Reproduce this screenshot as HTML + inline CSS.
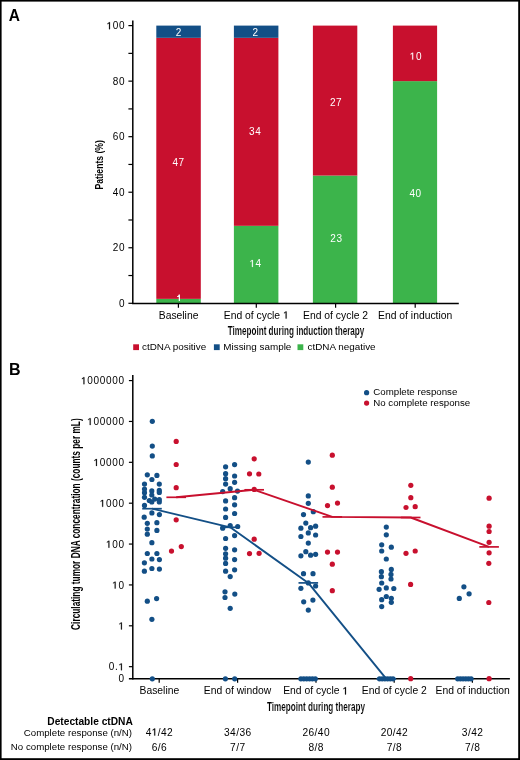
<!DOCTYPE html>
<html><head><meta charset="utf-8"><title>ctDNA figure</title>
<style>
html,body{margin:0;padding:0;background:#fff;}
body{width:520px;height:760px;overflow:hidden;}
svg{display:block;font-family:"Liberation Sans", sans-serif;will-change:transform;}
</style></head>
<body>
<svg width="520" height="760" viewBox="0 0 520 760">
<rect width="520" height="760" fill="#fff"/>
<rect x="156.3" y="298.86" width="44.5" height="4.44" fill="#3cb44b"/>
<rect x="156.3" y="37.82" width="44.5" height="261.04" fill="#c8102e"/>
<rect x="156.3" y="25.60" width="44.5" height="12.22" fill="#134f86"/>
<rect x="233.9" y="225.82" width="44.5" height="77.48" fill="#3cb44b"/>
<rect x="233.9" y="37.82" width="44.5" height="188.00" fill="#c8102e"/>
<rect x="233.9" y="25.60" width="44.5" height="12.22" fill="#134f86"/>
<rect x="312.9" y="175.56" width="44.4" height="127.74" fill="#3cb44b"/>
<rect x="312.9" y="25.60" width="44.4" height="149.96" fill="#c8102e"/>
<rect x="392.9" y="81.14" width="44.2" height="222.16" fill="#3cb44b"/>
<rect x="392.9" y="25.60" width="44.2" height="55.54" fill="#c8102e"/>
<text x="175.72" y="35.60" font-size="10.0" fill="#ffffff">2</text>
<text x="172.44 178.60" y="166.40" font-size="10.0" fill="#ffffff">47</text>
<text x="252.42" y="35.60" font-size="10.0" fill="#ffffff">2</text>
<text x="249.04 255.20" y="134.60" font-size="10.0" fill="#ffffff">34</text>
<path transform="translate(249.44,266.90) scale(0.004883,-0.004883)" d="M515,0 L696,0 L696,1409 L530,1409 L197,1180 L197,1010 L515,1237 Z" fill="#ffffff" stroke="#ffffff" stroke-width="45.1" stroke-linejoin="round"/>
<text x="255.60" y="266.90" font-size="10.0" fill="#ffffff">4</text>
<text x="329.94 336.10" y="105.80" font-size="10.0" fill="#ffffff">27</text>
<text x="330.24 336.40" y="241.50" font-size="10.0" fill="#ffffff">23</text>
<path transform="translate(409.74,59.60) scale(0.004883,-0.004883)" d="M515,0 L696,0 L696,1409 L530,1409 L197,1180 L197,1010 L515,1237 Z" fill="#ffffff" stroke="#ffffff" stroke-width="45.1" stroke-linejoin="round"/>
<text x="415.90" y="59.60" font-size="10.0" fill="#ffffff">0</text>
<text x="409.44 415.60" y="196.50" font-size="10.0" fill="#ffffff">40</text>
<path d="M178.75,294.4 L179.95,294.4 L179.95,301.0 L178.75,301.0 Z M178.75,294.4 C178.5,295.6 177.9,296.1 177.0,296.2 L177.0,297.1 C177.8,297.1 178.4,296.8 178.75,296.4 Z" fill="#fff"/>
<line x1="132.8" y1="20.4" x2="132.8" y2="304.1" stroke="#000" stroke-width="1.5"/>
<line x1="132.05" y1="303.4" x2="458.8" y2="303.4" stroke="#000" stroke-width="1.5"/>
<line x1="128.4" y1="303.30" x2="132.8" y2="303.30" stroke="#000" stroke-width="1.2"/>
<text x="119.04" y="306.90" font-size="10" fill="#000000">0</text>
<line x1="128.4" y1="275.53" x2="132.8" y2="275.53" stroke="#000" stroke-width="1.2"/>
<line x1="128.4" y1="247.76" x2="132.8" y2="247.76" stroke="#000" stroke-width="1.2"/>
<text x="112.80 119.04" y="251.36" font-size="10" fill="#000000">20</text>
<line x1="128.4" y1="219.99" x2="132.8" y2="219.99" stroke="#000" stroke-width="1.2"/>
<line x1="128.4" y1="192.22" x2="132.8" y2="192.22" stroke="#000" stroke-width="1.2"/>
<text x="112.80 119.04" y="195.82" font-size="10" fill="#000000">40</text>
<line x1="128.4" y1="164.45" x2="132.8" y2="164.45" stroke="#000" stroke-width="1.2"/>
<line x1="128.4" y1="136.68" x2="132.8" y2="136.68" stroke="#000" stroke-width="1.2"/>
<text x="112.80 119.04" y="140.28" font-size="10" fill="#000000">60</text>
<line x1="128.4" y1="108.91" x2="132.8" y2="108.91" stroke="#000" stroke-width="1.2"/>
<line x1="128.4" y1="81.14" x2="132.8" y2="81.14" stroke="#000" stroke-width="1.2"/>
<text x="112.80 119.04" y="84.74" font-size="10" fill="#000000">80</text>
<line x1="128.4" y1="53.37" x2="132.8" y2="53.37" stroke="#000" stroke-width="1.2"/>
<line x1="128.4" y1="25.60" x2="132.8" y2="25.60" stroke="#000" stroke-width="1.2"/>
<path transform="translate(106.56,29.20) scale(0.004883,-0.004883)" d="M515,0 L696,0 L696,1409 L530,1409 L197,1180 L197,1010 L515,1237 Z" fill="#000000" stroke="#000000" stroke-width="45.1" stroke-linejoin="round"/>
<text x="112.80 119.04" y="29.20" font-size="10" fill="#000000">00</text>
<line x1="178.4" y1="303.4" x2="178.4" y2="307.8" stroke="#000" stroke-width="1.2"/>
<line x1="256.3" y1="303.4" x2="256.3" y2="307.8" stroke="#000" stroke-width="1.2"/>
<line x1="335.6" y1="303.4" x2="335.6" y2="307.8" stroke="#000" stroke-width="1.2"/>
<line x1="415.2" y1="303.4" x2="415.2" y2="307.8" stroke="#000" stroke-width="1.2"/>
<text x="178.6" y="318.6" font-size="10.35" text-anchor="middle" fill="#000000" font-weight="normal" >Baseline</text>
<text x="223.79" y="318.6" font-size="10.35" text-anchor="start" fill="#000000" font-weight="normal" >End of cycle </text>
<path transform="translate(283.05,318.60) scale(0.005054,-0.005054)" d="M515,0 L696,0 L696,1409 L530,1409 L197,1180 L197,1010 L515,1237 Z" fill="#000000" stroke="#000000" stroke-width="43.5" stroke-linejoin="round"/>
<text x="335.6" y="318.6" font-size="10.35" text-anchor="middle" fill="#000000" font-weight="normal" >End of cycle 2</text>
<text x="415.2" y="318.6" font-size="10.35" text-anchor="middle" fill="#000000" font-weight="normal" >End of induction</text>
<text x="296" y="334.6" font-size="12.4" text-anchor="middle" fill="#000000" font-weight="bold" textLength="136.7" lengthAdjust="spacingAndGlyphs" stroke="#fff" stroke-width="0.12">Timepoint during induction therapy</text>
<text transform="translate(102.6,164.8) rotate(-90)" x="0" y="0" font-size="11.6" text-anchor="middle" fill="#000000" textLength="49.4" lengthAdjust="spacingAndGlyphs" font-weight="bold">Patients (%)</text>
<rect x="133.20000000000002" y="344.3" width="5.8" height="5.8" fill="#c8102e"/>
<text x="142.0" y="350.0" font-size="9.9" text-anchor="start" fill="#000000" font-weight="normal" >ctDNA positive</text>
<rect x="213.9" y="344.3" width="5.8" height="5.8" fill="#134f86"/>
<text x="223.3" y="350.0" font-size="9.9" text-anchor="start" fill="#000000" font-weight="normal" >Missing sample</text>
<rect x="297.5" y="344.3" width="5.8" height="5.8" fill="#3cb44b"/>
<text x="307.5" y="350.0" font-size="9.9" text-anchor="start" fill="#000000" font-weight="normal" >ctDNA negative</text>
<text x="8.8" y="20.8" font-size="17" text-anchor="start" fill="#000" font-weight="bold" textLength="11.2" lengthAdjust="spacingAndGlyphs" >A</text>
<text x="8.9" y="375.3" font-size="17" text-anchor="start" fill="#000" font-weight="bold" textLength="11.6" lengthAdjust="spacingAndGlyphs" >B</text>
<line x1="132.8" y1="375.0" x2="132.8" y2="679.5" stroke="#000" stroke-width="1.5"/>
<line x1="128.9" y1="678.8" x2="509.9" y2="678.8" stroke="#000" stroke-width="1.5"/>
<line x1="128.9" y1="380.58" x2="132.8" y2="380.58" stroke="#000" stroke-width="1.2"/>
<path transform="translate(80.99,384.18) scale(0.004883,-0.004883)" d="M515,0 L696,0 L696,1409 L530,1409 L197,1180 L197,1010 L515,1237 Z" fill="#000000" stroke="#000000" stroke-width="45.1" stroke-linejoin="round"/>
<text x="87.23 93.47 99.71 105.96 112.20 118.44" y="384.18" font-size="10" fill="#000000">000000</text>
<line x1="128.9" y1="421.45" x2="132.8" y2="421.45" stroke="#000" stroke-width="1.2"/>
<path transform="translate(87.23,425.05) scale(0.004883,-0.004883)" d="M515,0 L696,0 L696,1409 L530,1409 L197,1180 L197,1010 L515,1237 Z" fill="#000000" stroke="#000000" stroke-width="45.1" stroke-linejoin="round"/>
<text x="93.47 99.71 105.96 112.20 118.44" y="425.05" font-size="10" fill="#000000">00000</text>
<line x1="128.9" y1="462.32" x2="132.8" y2="462.32" stroke="#000" stroke-width="1.2"/>
<path transform="translate(93.47,465.92) scale(0.004883,-0.004883)" d="M515,0 L696,0 L696,1409 L530,1409 L197,1180 L197,1010 L515,1237 Z" fill="#000000" stroke="#000000" stroke-width="45.1" stroke-linejoin="round"/>
<text x="99.71 105.96 112.20 118.44" y="465.92" font-size="10" fill="#000000">0000</text>
<line x1="128.9" y1="503.19" x2="132.8" y2="503.19" stroke="#000" stroke-width="1.2"/>
<path transform="translate(99.71,506.79) scale(0.004883,-0.004883)" d="M515,0 L696,0 L696,1409 L530,1409 L197,1180 L197,1010 L515,1237 Z" fill="#000000" stroke="#000000" stroke-width="45.1" stroke-linejoin="round"/>
<text x="105.96 112.20 118.44" y="506.79" font-size="10" fill="#000000">000</text>
<line x1="128.9" y1="544.06" x2="132.8" y2="544.06" stroke="#000" stroke-width="1.2"/>
<path transform="translate(105.96,547.66) scale(0.004883,-0.004883)" d="M515,0 L696,0 L696,1409 L530,1409 L197,1180 L197,1010 L515,1237 Z" fill="#000000" stroke="#000000" stroke-width="45.1" stroke-linejoin="round"/>
<text x="112.20 118.44" y="547.66" font-size="10" fill="#000000">00</text>
<line x1="128.9" y1="584.93" x2="132.8" y2="584.93" stroke="#000" stroke-width="1.2"/>
<path transform="translate(112.20,588.53) scale(0.004883,-0.004883)" d="M515,0 L696,0 L696,1409 L530,1409 L197,1180 L197,1010 L515,1237 Z" fill="#000000" stroke="#000000" stroke-width="45.1" stroke-linejoin="round"/>
<text x="118.44" y="588.53" font-size="10" fill="#000000">0</text>
<line x1="128.9" y1="625.80" x2="132.8" y2="625.80" stroke="#000" stroke-width="1.2"/>
<path transform="translate(118.44,629.40) scale(0.004883,-0.004883)" d="M515,0 L696,0 L696,1409 L530,1409 L197,1180 L197,1010 L515,1237 Z" fill="#000000" stroke="#000000" stroke-width="45.1" stroke-linejoin="round"/>
<line x1="128.9" y1="666.67" x2="132.8" y2="666.67" stroke="#000" stroke-width="1.2"/>
<path transform="translate(118.44,670.27) scale(0.004883,-0.004883)" d="M515,0 L696,0 L696,1409 L530,1409 L197,1180 L197,1010 L515,1237 Z" fill="#000000" stroke="#000000" stroke-width="45.1" stroke-linejoin="round"/>
<text x="108.74 114.98" y="670.27" font-size="10" fill="#000000">0.</text>
<text x="118.44" y="682.40" font-size="10" fill="#000000">0</text>
<line x1="159.2" y1="678.8" x2="159.2" y2="682.8" stroke="#000" stroke-width="1.2"/>
<line x1="237.6" y1="678.8" x2="237.6" y2="682.8" stroke="#000" stroke-width="1.2"/>
<line x1="316.0" y1="678.8" x2="316.0" y2="682.8" stroke="#000" stroke-width="1.2"/>
<line x1="394.2" y1="678.8" x2="394.2" y2="682.8" stroke="#000" stroke-width="1.2"/>
<line x1="472.4" y1="678.8" x2="472.4" y2="682.8" stroke="#000" stroke-width="1.2"/>
<text x="159.4" y="694.4" font-size="10.35" text-anchor="middle" fill="#000000" font-weight="normal" >Baseline</text>
<text x="237.5" y="694.4" font-size="10.35" text-anchor="middle" fill="#000000" font-weight="normal" >End of window</text>
<text x="283.19" y="694.4" font-size="10.35" text-anchor="start" fill="#000000" font-weight="normal" >End of cycle </text>
<path transform="translate(342.45,694.40) scale(0.005054,-0.005054)" d="M515,0 L696,0 L696,1409 L530,1409 L197,1180 L197,1010 L515,1237 Z" fill="#000000" stroke="#000000" stroke-width="43.5" stroke-linejoin="round"/>
<text x="394.3" y="694.4" font-size="10.35" text-anchor="middle" fill="#000000" font-weight="normal" >End of cycle 2</text>
<text x="472.6" y="694.4" font-size="10.35" text-anchor="middle" fill="#000000" font-weight="normal" >End of induction</text>
<text x="316.0" y="710.7" font-size="12.4" text-anchor="middle" fill="#000000" font-weight="bold" textLength="98.1" lengthAdjust="spacingAndGlyphs" stroke="#fff" stroke-width="0.12">Timepoint during therapy</text>
<text transform="translate(80.2,524.1) rotate(-90)" x="0" y="0" font-size="13.2" text-anchor="middle" fill="#000000" textLength="211.6" lengthAdjust="spacingAndGlyphs" font-weight="bold">Circulating tumor DNA concentration (counts per mL)</text>
<circle cx="366.6" cy="392.7" r="2.6" fill="#134f86"/>
<circle cx="366.6" cy="403.1" r="2.6" fill="#c8102e"/>
<text x="373.3" y="395.2" font-size="9.7" text-anchor="start" fill="#000000" font-weight="normal" >Complete response</text>
<text x="373.3" y="405.8" font-size="9.7" text-anchor="start" fill="#000000" font-weight="normal" >No complete response</text>
<circle cx="152.3" cy="421.3" r="2.6" fill="#134f86"/>
<circle cx="152.3" cy="446.1" r="2.6" fill="#134f86"/>
<circle cx="152.3" cy="455.9" r="2.6" fill="#134f86"/>
<circle cx="147.3" cy="474.8" r="2.6" fill="#134f86"/>
<circle cx="156.9" cy="475.4" r="2.6" fill="#134f86"/>
<circle cx="151.9" cy="479.5" r="2.6" fill="#134f86"/>
<circle cx="144.5" cy="484.1" r="2.6" fill="#134f86"/>
<circle cx="159.3" cy="484.1" r="2.6" fill="#134f86"/>
<circle cx="144.5" cy="489" r="2.6" fill="#134f86"/>
<circle cx="144.5" cy="492.7" r="2.6" fill="#134f86"/>
<circle cx="144.5" cy="497.3" r="2.6" fill="#134f86"/>
<circle cx="159.3" cy="490.4" r="2.6" fill="#134f86"/>
<circle cx="159.3" cy="492.4" r="2.6" fill="#134f86"/>
<circle cx="151.8" cy="490.9" r="2.6" fill="#134f86"/>
<circle cx="151.8" cy="495" r="2.6" fill="#134f86"/>
<circle cx="149.3" cy="500.5" r="2.6" fill="#134f86"/>
<circle cx="151.8" cy="502" r="2.6" fill="#134f86"/>
<circle cx="154.7" cy="499.1" r="2.6" fill="#134f86"/>
<circle cx="159.3" cy="499.7" r="2.6" fill="#134f86"/>
<circle cx="159.3" cy="502" r="2.6" fill="#134f86"/>
<circle cx="144.5" cy="505.4" r="2.6" fill="#134f86"/>
<circle cx="151.9" cy="512.9" r="2.6" fill="#134f86"/>
<circle cx="159.4" cy="514.6" r="2.6" fill="#134f86"/>
<circle cx="144.2" cy="517.2" r="2.6" fill="#134f86"/>
<circle cx="147.3" cy="523.3" r="2.6" fill="#134f86"/>
<circle cx="156.9" cy="522.7" r="2.6" fill="#134f86"/>
<circle cx="147.3" cy="529" r="2.6" fill="#134f86"/>
<circle cx="156.9" cy="530.4" r="2.6" fill="#134f86"/>
<circle cx="147.3" cy="534.2" r="2.6" fill="#134f86"/>
<circle cx="151.9" cy="542.7" r="2.6" fill="#134f86"/>
<circle cx="147.3" cy="553.5" r="2.6" fill="#134f86"/>
<circle cx="156.9" cy="553.5" r="2.6" fill="#134f86"/>
<circle cx="151.9" cy="559" r="2.6" fill="#134f86"/>
<circle cx="159.4" cy="559.6" r="2.6" fill="#134f86"/>
<circle cx="144.4" cy="562.8" r="2.6" fill="#134f86"/>
<circle cx="151.9" cy="568.5" r="2.6" fill="#134f86"/>
<circle cx="159.4" cy="569.1" r="2.6" fill="#134f86"/>
<circle cx="144.4" cy="571.2" r="2.6" fill="#134f86"/>
<circle cx="147.3" cy="601.2" r="2.6" fill="#134f86"/>
<circle cx="156.6" cy="598.6" r="2.6" fill="#134f86"/>
<circle cx="151.9" cy="619.3" r="2.6" fill="#134f86"/>
<circle cx="152.3" cy="678.8" r="2.6" fill="#134f86"/>
<circle cx="225.6" cy="466.8" r="2.6" fill="#134f86"/>
<circle cx="234.6" cy="464.6" r="2.6" fill="#134f86"/>
<circle cx="225.6" cy="473.7" r="2.6" fill="#134f86"/>
<circle cx="225.6" cy="478.7" r="2.6" fill="#134f86"/>
<circle cx="234.6" cy="476" r="2.6" fill="#134f86"/>
<circle cx="234.6" cy="482.3" r="2.6" fill="#134f86"/>
<circle cx="225.6" cy="484.1" r="2.6" fill="#134f86"/>
<circle cx="230.2" cy="488.7" r="2.6" fill="#134f86"/>
<circle cx="222.7" cy="491.6" r="2.6" fill="#134f86"/>
<circle cx="237.5" cy="491.1" r="2.6" fill="#134f86"/>
<circle cx="234.6" cy="497.7" r="2.6" fill="#134f86"/>
<circle cx="225.6" cy="500.9" r="2.6" fill="#134f86"/>
<circle cx="234.6" cy="504.8" r="2.6" fill="#134f86"/>
<circle cx="225.6" cy="509" r="2.6" fill="#134f86"/>
<circle cx="234.6" cy="513.5" r="2.6" fill="#134f86"/>
<circle cx="225.6" cy="517.4" r="2.6" fill="#134f86"/>
<circle cx="222.7" cy="528.2" r="2.6" fill="#134f86"/>
<circle cx="230.2" cy="525.6" r="2.6" fill="#134f86"/>
<circle cx="237.7" cy="526.5" r="2.6" fill="#134f86"/>
<circle cx="234.6" cy="535.6" r="2.6" fill="#134f86"/>
<circle cx="225.6" cy="538.5" r="2.6" fill="#134f86"/>
<circle cx="225.6" cy="548.3" r="2.6" fill="#134f86"/>
<circle cx="234.6" cy="549.8" r="2.6" fill="#134f86"/>
<circle cx="225.6" cy="553.8" r="2.6" fill="#134f86"/>
<circle cx="225.6" cy="558.2" r="2.6" fill="#134f86"/>
<circle cx="234.6" cy="559.6" r="2.6" fill="#134f86"/>
<circle cx="225.6" cy="563.4" r="2.6" fill="#134f86"/>
<circle cx="225.6" cy="571.2" r="2.6" fill="#134f86"/>
<circle cx="234.6" cy="569.8" r="2.6" fill="#134f86"/>
<circle cx="230.2" cy="576.6" r="2.6" fill="#134f86"/>
<circle cx="225" cy="591.8" r="2.6" fill="#134f86"/>
<circle cx="225" cy="597.5" r="2.6" fill="#134f86"/>
<circle cx="234.8" cy="594.1" r="2.6" fill="#134f86"/>
<circle cx="230.2" cy="608.3" r="2.6" fill="#134f86"/>
<circle cx="225.4" cy="678.8" r="2.6" fill="#134f86"/>
<circle cx="234.7" cy="678.8" r="2.6" fill="#134f86"/>
<circle cx="308.3" cy="462.1" r="2.6" fill="#134f86"/>
<circle cx="308.3" cy="495.9" r="2.6" fill="#134f86"/>
<circle cx="308.3" cy="503.3" r="2.6" fill="#134f86"/>
<circle cx="313.3" cy="511.7" r="2.6" fill="#134f86"/>
<circle cx="303.5" cy="514.6" r="2.6" fill="#134f86"/>
<circle cx="305.8" cy="523.1" r="2.6" fill="#134f86"/>
<circle cx="315.6" cy="526.2" r="2.6" fill="#134f86"/>
<circle cx="300.9" cy="528.2" r="2.6" fill="#134f86"/>
<circle cx="310.6" cy="527.7" r="2.6" fill="#134f86"/>
<circle cx="308.3" cy="532.9" r="2.6" fill="#134f86"/>
<circle cx="300.9" cy="536.5" r="2.6" fill="#134f86"/>
<circle cx="315.6" cy="535" r="2.6" fill="#134f86"/>
<circle cx="308.3" cy="543.1" r="2.6" fill="#134f86"/>
<circle cx="305.8" cy="551.7" r="2.6" fill="#134f86"/>
<circle cx="300.9" cy="555.8" r="2.6" fill="#134f86"/>
<circle cx="310.6" cy="555.2" r="2.6" fill="#134f86"/>
<circle cx="315.6" cy="554.3" r="2.6" fill="#134f86"/>
<circle cx="303.5" cy="573.7" r="2.6" fill="#134f86"/>
<circle cx="313" cy="573.7" r="2.6" fill="#134f86"/>
<circle cx="308.3" cy="582.9" r="2.6" fill="#134f86"/>
<circle cx="315.6" cy="586" r="2.6" fill="#134f86"/>
<circle cx="300.9" cy="588.3" r="2.6" fill="#134f86"/>
<circle cx="303.7" cy="601.8" r="2.6" fill="#134f86"/>
<circle cx="312.9" cy="600.1" r="2.6" fill="#134f86"/>
<circle cx="308.3" cy="610.1" r="2.6" fill="#134f86"/>
<circle cx="386.3" cy="527.1" r="2.6" fill="#134f86"/>
<circle cx="386.3" cy="534.8" r="2.6" fill="#134f86"/>
<circle cx="381.7" cy="544.8" r="2.6" fill="#134f86"/>
<circle cx="391.3" cy="547.2" r="2.6" fill="#134f86"/>
<circle cx="381.7" cy="551" r="2.6" fill="#134f86"/>
<circle cx="386.3" cy="559" r="2.6" fill="#134f86"/>
<circle cx="391.3" cy="569.4" r="2.6" fill="#134f86"/>
<circle cx="381.4" cy="571.7" r="2.6" fill="#134f86"/>
<circle cx="391" cy="574.4" r="2.6" fill="#134f86"/>
<circle cx="381.4" cy="576.7" r="2.6" fill="#134f86"/>
<circle cx="391" cy="579" r="2.6" fill="#134f86"/>
<circle cx="381.7" cy="583" r="2.6" fill="#134f86"/>
<circle cx="379.1" cy="589.3" r="2.6" fill="#134f86"/>
<circle cx="386.3" cy="587.9" r="2.6" fill="#134f86"/>
<circle cx="393.8" cy="588.5" r="2.6" fill="#134f86"/>
<circle cx="386.3" cy="596.5" r="2.6" fill="#134f86"/>
<circle cx="391.3" cy="598.3" r="2.6" fill="#134f86"/>
<circle cx="381.7" cy="599.7" r="2.6" fill="#134f86"/>
<circle cx="391.3" cy="602.3" r="2.6" fill="#134f86"/>
<circle cx="381.7" cy="606.6" r="2.6" fill="#134f86"/>
<circle cx="463.9" cy="586.8" r="2.6" fill="#134f86"/>
<circle cx="469.1" cy="593.8" r="2.6" fill="#134f86"/>
<circle cx="459.3" cy="598.4" r="2.6" fill="#134f86"/>
<circle cx="300.9" cy="678.8" r="2.6" fill="#134f86"/>
<circle cx="303.78" cy="678.8" r="2.6" fill="#134f86"/>
<circle cx="306.65999999999997" cy="678.8" r="2.6" fill="#134f86"/>
<circle cx="309.54" cy="678.8" r="2.6" fill="#134f86"/>
<circle cx="312.42" cy="678.8" r="2.6" fill="#134f86"/>
<circle cx="315.3" cy="678.8" r="2.6" fill="#134f86"/>
<circle cx="379.5" cy="678.8" r="2.6" fill="#134f86"/>
<circle cx="382.2" cy="678.8" r="2.6" fill="#134f86"/>
<circle cx="384.9" cy="678.8" r="2.6" fill="#134f86"/>
<circle cx="387.6" cy="678.8" r="2.6" fill="#134f86"/>
<circle cx="390.3" cy="678.8" r="2.6" fill="#134f86"/>
<circle cx="393.0" cy="678.8" r="2.6" fill="#134f86"/>
<circle cx="457.7" cy="678.8" r="2.6" fill="#134f86"/>
<circle cx="460.38" cy="678.8" r="2.6" fill="#134f86"/>
<circle cx="463.06" cy="678.8" r="2.6" fill="#134f86"/>
<circle cx="465.74" cy="678.8" r="2.6" fill="#134f86"/>
<circle cx="468.42" cy="678.8" r="2.6" fill="#134f86"/>
<circle cx="471.1" cy="678.8" r="2.6" fill="#134f86"/>
<circle cx="176.2" cy="441.4" r="2.6" fill="#c8102e"/>
<circle cx="176.2" cy="464.5" r="2.6" fill="#c8102e"/>
<circle cx="176.2" cy="487.7" r="2.6" fill="#c8102e"/>
<circle cx="176.2" cy="519.8" r="2.6" fill="#c8102e"/>
<circle cx="181.3" cy="546.6" r="2.6" fill="#c8102e"/>
<circle cx="171.5" cy="551.1" r="2.6" fill="#c8102e"/>
<circle cx="254.2" cy="458.8" r="2.6" fill="#c8102e"/>
<circle cx="249.5" cy="473.8" r="2.6" fill="#c8102e"/>
<circle cx="258.8" cy="474" r="2.6" fill="#c8102e"/>
<circle cx="254.2" cy="489.4" r="2.6" fill="#c8102e"/>
<circle cx="254.2" cy="539.2" r="2.6" fill="#c8102e"/>
<circle cx="249.5" cy="553.6" r="2.6" fill="#c8102e"/>
<circle cx="259.1" cy="553.3" r="2.6" fill="#c8102e"/>
<circle cx="332.3" cy="455.2" r="2.6" fill="#c8102e"/>
<circle cx="332.3" cy="487.2" r="2.6" fill="#c8102e"/>
<circle cx="327.5" cy="505.6" r="2.6" fill="#c8102e"/>
<circle cx="337.5" cy="503.1" r="2.6" fill="#c8102e"/>
<circle cx="327.5" cy="552.1" r="2.6" fill="#c8102e"/>
<circle cx="337.5" cy="552.1" r="2.6" fill="#c8102e"/>
<circle cx="332.3" cy="564.2" r="2.6" fill="#c8102e"/>
<circle cx="332.3" cy="590.7" r="2.6" fill="#c8102e"/>
<circle cx="410.8" cy="485.3" r="2.6" fill="#c8102e"/>
<circle cx="410.8" cy="497.7" r="2.6" fill="#c8102e"/>
<circle cx="406" cy="507.5" r="2.6" fill="#c8102e"/>
<circle cx="415.2" cy="506.7" r="2.6" fill="#c8102e"/>
<circle cx="406" cy="553.3" r="2.6" fill="#c8102e"/>
<circle cx="415.2" cy="551" r="2.6" fill="#c8102e"/>
<circle cx="410.6" cy="584.4" r="2.6" fill="#c8102e"/>
<circle cx="410.7" cy="678.7" r="2.6" fill="#c8102e"/>
<circle cx="489.1" cy="498.2" r="2.6" fill="#c8102e"/>
<circle cx="489.1" cy="526.2" r="2.6" fill="#c8102e"/>
<circle cx="489.1" cy="531.5" r="2.6" fill="#c8102e"/>
<circle cx="489.1" cy="542.3" r="2.6" fill="#c8102e"/>
<circle cx="489.1" cy="552.8" r="2.6" fill="#c8102e"/>
<circle cx="488.8" cy="563.3" r="2.6" fill="#c8102e"/>
<circle cx="488.8" cy="602.5" r="2.6" fill="#c8102e"/>
<circle cx="489.1" cy="678.7" r="2.6" fill="#c8102e"/>
<path d="M152.0,508.7 L230.2,527.3 L308.3,582.9 L386.3,678.8" fill="none" stroke="#134f86" stroke-width="1.9" stroke-linejoin="round"/>
<line x1="142.2" y1="508.7" x2="161.8" y2="508.7" stroke="#134f86" stroke-width="1.7"/>
<line x1="220.39999999999998" y1="527.3" x2="240.0" y2="527.3" stroke="#134f86" stroke-width="1.7"/>
<line x1="298.5" y1="582.9" x2="318.1" y2="582.9" stroke="#134f86" stroke-width="1.7"/>
<line x1="376.5" y1="678.8" x2="396.1" y2="678.8" stroke="#134f86" stroke-width="1.7"/>
<path d="M176.2,497.3 L254.2,489.8 L332.3,516.9 L410.7,517.5 L489.1,546.9" fill="none" stroke="#c8102e" stroke-width="1.9" stroke-linejoin="round"/>
<line x1="166.39999999999998" y1="497.3" x2="186.0" y2="497.3" stroke="#c8102e" stroke-width="1.7"/>
<line x1="244.39999999999998" y1="489.8" x2="264.0" y2="489.8" stroke="#c8102e" stroke-width="1.7"/>
<line x1="322.5" y1="516.9" x2="342.1" y2="516.9" stroke="#c8102e" stroke-width="1.7"/>
<line x1="400.9" y1="517.5" x2="420.5" y2="517.5" stroke="#c8102e" stroke-width="1.7"/>
<line x1="479.3" y1="546.9" x2="498.90000000000003" y2="546.9" stroke="#c8102e" stroke-width="1.7"/>
<text x="132.8" y="724.8" font-size="10.2" text-anchor="end" fill="#000" font-weight="bold" >Detectable ctDNA</text>
<text x="132.0" y="736.1" font-size="9.7" text-anchor="end" fill="#000000" font-weight="normal" >Complete response (n/N)</text>
<text x="132.0" y="750.4" font-size="9.7" text-anchor="end" fill="#000000" font-weight="normal" >No complete response (n/N)</text>
<path transform="translate(151.71,735.60) scale(0.004980,-0.004980)" d="M515,0 L696,0 L696,1409 L530,1409 L197,1180 L197,1010 L515,1237 Z" fill="#000000" stroke="#000000" stroke-width="44.2" stroke-linejoin="round"/>
<text x="145.64 157.78 161.02 167.09" y="735.60" font-size="10.2" fill="#000000">4/42</text>
<text x="151.71 157.78 161.02" y="750.60" font-size="10.2" fill="#000000">6/6</text>
<text x="224.04 230.11 236.18 239.42 245.49" y="735.60" font-size="10.2" fill="#000000">34/36</text>
<text x="230.11 236.18 239.42" y="750.60" font-size="10.2" fill="#000000">7/7</text>
<text x="302.44 308.51 314.58 317.82 323.89" y="735.60" font-size="10.2" fill="#000000">26/40</text>
<text x="308.51 314.58 317.82" y="750.60" font-size="10.2" fill="#000000">8/8</text>
<text x="380.64 386.71 392.78 396.02 402.09" y="735.60" font-size="10.2" fill="#000000">20/42</text>
<text x="386.71 392.78 396.02" y="750.60" font-size="10.2" fill="#000000">7/8</text>
<text x="461.87 467.95 471.18 477.25" y="735.60" font-size="10.2" fill="#000000">3/42</text>
<text x="464.91 470.98 474.22" y="750.60" font-size="10.2" fill="#000000">7/8</text>
<rect x="0" y="0" width="520" height="1.6" fill="#000"/>
<rect x="0" y="0" width="1.6" height="760" fill="#000"/>
<rect x="518.2" y="0" width="1.8" height="760" fill="#000"/>
<rect x="0" y="758.2" width="520" height="1.8" fill="#000"/>
</svg>
</body></html>
